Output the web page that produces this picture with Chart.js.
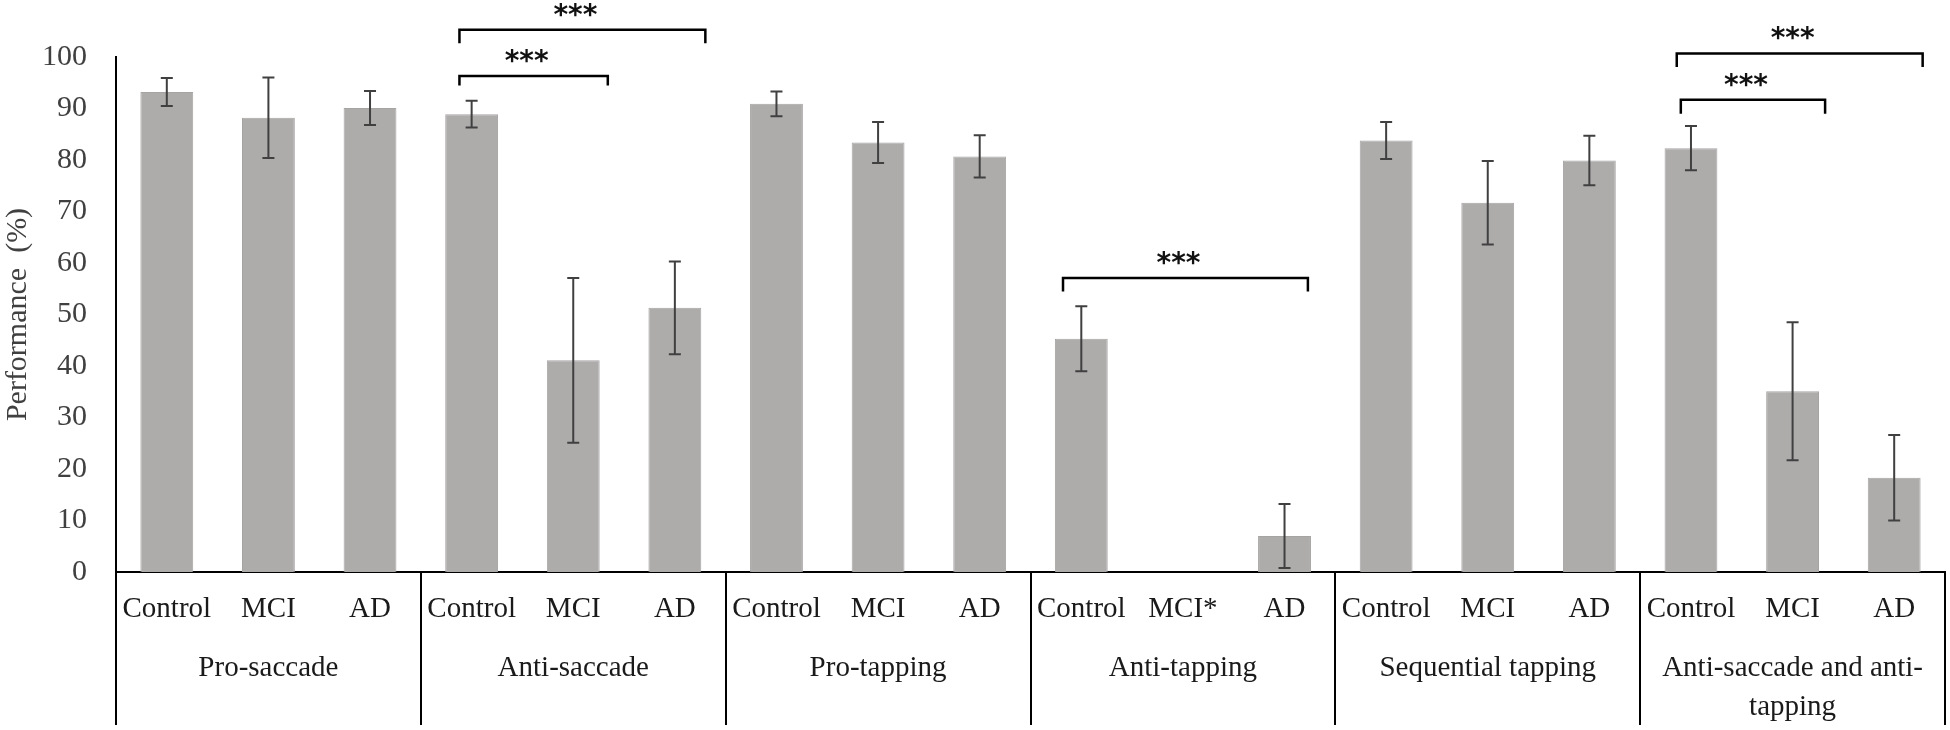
<!DOCTYPE html>
<html>
<head>
<meta charset="utf-8">
<script src="https://cdn.jsdelivr.net/npm/chart.js@4"></script>
<style>
  html, body { margin: 0; padding: 0; background: #fff; }
  #wrap { width: 1950px; height: 730px; }
</style>
</head>
<body>
<div id="wrap"><canvas id="myChart" width="1950" height="730"></canvas></div>
<script>
const categories = ['Control', 'MCI', 'AD', 'Control', 'MCI', 'AD', 'Control', 'MCI', 'AD',
  'Control', 'MCI*', 'AD', 'Control', 'MCI', 'AD', 'Control', 'MCI', 'AD']
const groups = ['Pro-saccade', 'Anti-saccade', 'Pro-tapping', 'Anti-tapping', 'Sequential tapping',
  ['Anti-saccade and anti-', 'tapping']]
const performance = [93.2, 88.2, 90.1, 88.9, 41.1, 51.3, 90.9, 83.4, 80.7, 45.3, null, 7.0, 83.8, 71.7, 79.9, 82.3, 35.1, 18.3]
const errors = [2.7, 7.8, 3.3, 2.6, 16.0, 9.0, 2.4, 4.0, 4.1, 6.3, null, 6.2, 3.6, 8.1, 4.8, 4.3, 13.4, 8.3]
const yTicks = [0, 10, 20, 30, 40, 50, 60, 70, 80, 90, 100]

// significance brackets: from / to (category position), level and tick end (value axis)
const bracketFrom = [2.88, 2.88, 8.82, 14.86, 14.9]
const bracketTo = [4.34, 5.3, 11.23, 17.28, 16.32]
const bracketLevel = [96.3, 105.3, 57.1, 100.7, 91.7]
const bracketEnd = [94.7, 102.9, 54.7, 98.3, 89.2]
const bracketText = ['***', '***', '***', '***', '***']

const serif = "'Liberation Serif', 'Times New Roman', serif"

const extras = {
  id: 'extras',
  afterDatasetsDraw(chart) {
    const { ctx, scales: { x, y } } = chart
    ctx.save()
    ctx.strokeStyle = '#404040'
    ctx.lineWidth = 2
    performance.forEach((v, i) => {
      if (v === null || errors[i] === null) return
      const px = x.getPixelForValue(i)
      const top = y.getPixelForValue(v + errors[i])
      const bot = y.getPixelForValue(Math.max(0, v - errors[i]))
      ctx.beginPath()
      ctx.moveTo(px, top); ctx.lineTo(px, bot)
      ctx.moveTo(px - 6, top); ctx.lineTo(px + 6, top)
      ctx.moveTo(px - 6, bot); ctx.lineTo(px + 6, bot)
      ctx.stroke()
    })
    ctx.restore()
  },
  afterDraw(chart) {
    const { ctx, scales: { x, y }, chartArea } = chart
    ctx.save()
    // group separators below the axis
    ctx.strokeStyle = '#000'
    ctx.lineWidth = 2
    for (let g = 0; g <= groups.length; g++) {
      const sx = Math.round(x.getPixelForValue(g * 3 - 0.5))
      ctx.beginPath()
      ctx.moveTo(sx, chartArea.bottom)
      ctx.lineTo(sx, 725)
      ctx.stroke()
    }
    // group labels
    ctx.fillStyle = '#1a1a1a'
    ctx.font = '29px ' + serif
    ctx.textAlign = 'center'
    ctx.textBaseline = 'middle'
    groups.forEach((name, g) => {
      const cx = x.getPixelForValue(g * 3 + 1)
      const lines = Array.isArray(name) ? name : [name]
      lines.forEach((t, k) => ctx.fillText(t, cx, 668 + k * 39))
    })
    // brackets
    ctx.strokeStyle = '#000'
    ctx.lineWidth = 2.5
    ctx.lineCap = 'square'
    ctx.font = "bold 28px 'DejaVu Sans', sans-serif"
    ctx.textBaseline = 'alphabetic'
    bracketFrom.forEach((f, i) => {
      const x1 = x.getPixelForValue(f)
      const x2 = x.getPixelForValue(bracketTo[i])
      const yl = y.getPixelForValue(bracketLevel[i])
      const ye = y.getPixelForValue(bracketEnd[i])
      ctx.beginPath()
      ctx.moveTo(x1, ye); ctx.lineTo(x1, yl); ctx.lineTo(x2, yl); ctx.lineTo(x2, ye)
      ctx.stroke()
      const m = ctx.measureText(bracketText[i])
      const cy = yl - 20
      ctx.fillStyle = '#111'
      ctx.fillText(bracketText[i], (x1 + x2) / 2 - 7, cy + (m.actualBoundingBoxAscent - m.actualBoundingBoxDescent) / 2)
    })
    ctx.restore()
  }
}

new Chart(document.getElementById('myChart'), {
  type: 'bar',
  data: {
    labels: categories,
    datasets: [{
      data: performance,
      backgroundColor: '#aeabab',
      borderColor: '#a6a3a3',
      borderWidth: 1,
      barPercentage: 1,
      categoryPercentage: 0.52
    }]
  },
  options: {
    responsive: false,
    animation: false,
    devicePixelRatio: 1,
    layout: { padding: { top: 57, left: 0, right: 5, bottom: 0 } },
    plugins: { legend: { display: false }, tooltip: { enabled: false } },
    scales: {
      x: {
        grid: { display: false, drawTicks: false },
        border: { display: true, color: '#000', width: 2 },
        ticks: { color: '#1a1a1a', font: { family: serif, size: 29 }, padding: 20, maxRotation: 0, autoSkip: false },
        afterFit: (s) => { s.height = 158 }
      },
      y: {
        min: 0,
        max: 100,
        afterBuildTicks: (s) => { s.ticks = yTicks.map(v => ({ value: v })) },
        grid: { display: false, drawTicks: false },
        border: { display: true, color: '#000', width: 2 },
        ticks: { color: '#404040', font: { family: serif, size: 30 }, padding: 29 },
        title: { display: true, text: 'Performance  (%)', color: '#404040', font: { family: serif, size: 30 }, padding: { top: 0, bottom: 0 } },
        afterFit: (s) => { s.width = 116 }
      }
    }
  },
  plugins: [extras]
})
</script>
</body>
</html>
